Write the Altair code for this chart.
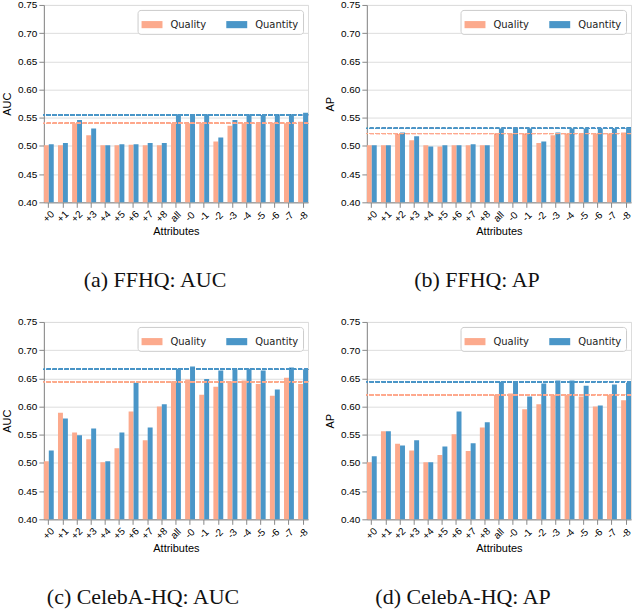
import altair as alt
import pandas as pd

attrs = ["+0", "+1", "+2", "+3", "+4", "+5", "+6", "+7", "+8", "all",
         "-0", "-1", "-2", "-3", "-4", "-5", "-6", "-7", "-8"]
series = ["Quality", "Quantity"]

ffhq_auc_quality = [0.501, 0.501, 0.540, 0.519, 0.501, 0.501, 0.502, 0.501, 0.501, 0.540,
                    0.540, 0.541, 0.508, 0.536, 0.540, 0.540, 0.541, 0.540, 0.543]
ffhq_auc_quantity = [0.503, 0.505, 0.546, 0.531, 0.501, 0.503, 0.503, 0.505, 0.505, 0.556,
                     0.556, 0.556, 0.515, 0.546, 0.556, 0.555, 0.556, 0.556, 0.559]
ffhq_auc_ref = [0.540, 0.555]

ffhq_ap_quality = [0.501, 0.501, 0.521, 0.510, 0.501, 0.499, 0.501, 0.501, 0.501, 0.522,
                   0.522, 0.522, 0.505, 0.519, 0.522, 0.522, 0.522, 0.522, 0.524]
ffhq_ap_quantity = [0.501, 0.501, 0.524, 0.517, 0.499, 0.501, 0.501, 0.503, 0.501, 0.531,
                    0.531, 0.531, 0.508, 0.524, 0.531, 0.531, 0.531, 0.531, 0.533]
ffhq_ap_ref = [0.522, 0.531]

celeba_auc_quality = [0.503, 0.589, 0.554, 0.542, 0.501, 0.526, 0.591, 0.540, 0.600, 0.645,
                      0.648, 0.621, 0.635, 0.645, 0.646, 0.640, 0.619, 0.651, 0.640]
celeba_auc_quantity = [0.522, 0.579, 0.549, 0.561, 0.503, 0.554, 0.642, 0.563, 0.604, 0.667,
                       0.671, 0.649, 0.664, 0.667, 0.667, 0.664, 0.630, 0.669, 0.666]
celeba_auc_ref = [0.644, 0.666]

celeba_ap_quality = [0.501, 0.556, 0.534, 0.522, 0.501, 0.514, 0.551, 0.521, 0.563, 0.621,
                     0.623, 0.595, 0.604, 0.621, 0.621, 0.618, 0.600, 0.621, 0.611]
celeba_ap_quantity = [0.512, 0.556, 0.531, 0.540, 0.501, 0.529, 0.591, 0.535, 0.572, 0.644,
                      0.644, 0.618, 0.641, 0.646, 0.646, 0.637, 0.602, 0.639, 0.642]
celeba_ap_ref = [0.621, 0.644]

y_ticks = [0.40, 0.45, 0.50, 0.55, 0.60, 0.65, 0.70, 0.75]
colors = ["#fcaa8d", "#4a96c8"]

W, H = 265, 198


def panel(quality, quantity, ref, ytitle, caption, dx):
    df = pd.DataFrame({
        "Attribute": attrs * 2,
        "Type": [series[0]] * len(attrs) + [series[1]] * len(attrs),
        "Value": quality + quantity,
    })
    yscale = alt.Scale(domain=[0.40, 0.75], zero=False, nice=False)
    yaxis = alt.Axis(title=ytitle, values=y_ticks, tickCount=8, format=".2f", titlePadding=5,
                     titleFontWeight=400, labelOverlap=False, labelFlush=False)
    bars = alt.Chart(df).mark_bar(clip=True).encode(
        x=alt.X("Attribute:N", sort=attrs,
                scale=alt.Scale(paddingInner=0.3, paddingOuter=0),
                axis=alt.Axis(title="Attributes", labelAngle=315, labelAlign="center",
                              labelBaseline="middle", labelPadding=9, titlePadding=2,
                              titleFontWeight=400, labelOverlap=False)),
        xOffset=alt.XOffset("Type:N", sort=series),
        y=alt.Y("Value:Q", scale=yscale, axis=yaxis),
        color=alt.Color("Type:N", sort=series,
                        scale=alt.Scale(domain=series, range=colors),
                        legend=alt.Legend(title=None, orient="top-right", direction="horizontal",
                                          offset=5, symbolType="M-1,-0.34H1V0.34H-1Z",
                                          symbolSize=441, symbolStrokeWidth=0, symbolOpacity=1,
                                          labelFontSize=10, labelOffset=8, columnPadding=20,
                                          padding=4, strokeColor="#cccccc", fillColor="white",
                                          cornerRadius=3, labelFont="DejaVu Sans",
                                          labelColor="#222222")),
    )
    r_q = alt.Chart(df).mark_rule(color=colors[0], strokeDash=[4, 2], strokeWidth=1,
                                  opacity=0.8).encode(
        y=alt.YDatum(ref[0], type="quantitative", scale=yscale, axis=yaxis))
    r_n = alt.Chart(df).mark_rule(color=colors[1], strokeDash=[4, 2], strokeWidth=1,
                                  opacity=0.85).encode(
        y=alt.YDatum(ref[1], type="quantitative", scale=yscale, axis=yaxis))
    return alt.layer(bars, r_q, r_n).properties(
        width=W, height=H,
        title=alt.TitleParams(caption, orient="bottom", anchor="middle", font="Liberation Serif",
                              fontSize=22, fontWeight="normal", color="#111111", offset=33, dx=dx),
    )


a = panel(ffhq_auc_quality, ffhq_auc_quantity, ffhq_auc_ref, "AUC", "(a) FFHQ: AUC", -21)
b = panel(ffhq_ap_quality, ffhq_ap_quantity, ffhq_ap_ref, "AP", "(b) FFHQ: AP", -22)
c = panel(celeba_auc_quality, celeba_auc_quantity, celeba_auc_ref, "AUC", "(c) CelebA-HQ: AUC", -33)
d = panel(celeba_ap_quality, celeba_ap_quantity, celeba_ap_ref, "AP", "(d) CelebA-HQ: AP", -36)

chart = alt.concat(a, b, c, d, columns=2, spacing={"row": 120, "column": 59}, bounds="flush").resolve_scale(
    color="independent").resolve_legend(color="independent").properties(
    padding={"left": 1, "top": -2, "right": 0, "bottom": 0}
).configure_view(stroke="#222222", strokeWidth=1).configure_axis(
    labelFont="DejaVu Sans", titleFont="DejaVu Sans", labelFontSize=7.5, titleFontSize=10.5,
    titleFontWeight=400, tickSize=3.5, tickColor="#222222", domainColor="#222222",
    labelColor="#222222", titleColor="#222222", grid=False
).configure(background="white")

chart.save("out.html", embed_options={"renderer": "svg", "actions": False})
